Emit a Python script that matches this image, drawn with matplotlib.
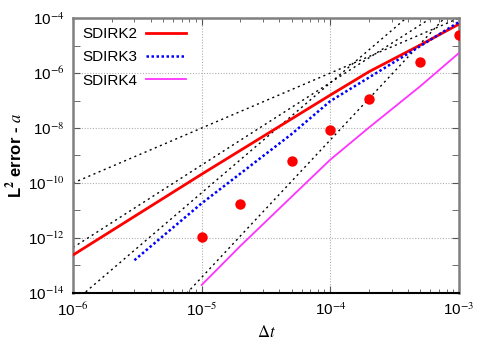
import numpy as np
import matplotlib
matplotlib.use("Agg")
import matplotlib.pyplot as plt
from matplotlib.ticker import FixedLocator, LogLocator, NullFormatter

plt.rcParams['font.family'] = ['Liberation Sans', 'DejaVu Sans']
plt.rcParams['mathtext.fontset'] = 'stix'

# SDIRK2 curve (log10 of error)
dt_sdirk2 = [1e-6, 1e-5, 1e-4, 2e-4, 5e-4, 1e-3]
err_sdirk2 = [-12.62, -9.68, -6.80, -5.95, -4.98, -4.22]

# SDIRK3 curve
dt_sdirk3 = [3e-6, 1e-5, 5e-5, 1e-4, 2e-4, 5e-4, 1e-3]
err_sdirk3 = [-12.81, -10.74, -8.22, -7.02, -6.16, -5.02, -4.14]

# SDIRK4 curve
dt_sdirk4 = [1e-5, 2e-5, 5e-5, 1e-4, 2e-4, 5e-4, 1e-3]
err_sdirk4 = [-13.71, -12.29, -10.50, -9.15, -7.98, -6.48, -5.27]

# red dots
dt_pts = [1e-5, 2e-5, 5e-5, 1e-4, 2e-4, 5e-4, 1e-3]
err_pts = [-11.95, -10.75, -9.21, -8.06, -6.96, -5.60, -4.62]

# reference slopes: order and constant C in C*dt^order
ref_orders = [2, 3, 4, 5]
ref_consts = [1e2, 4.5e5, 4.4e9, 3.7e11]

fig = plt.figure(figsize=(4.87, 3.41), dpi=100)
ax = fig.add_axes([0.150, 0.141, 0.7925, 0.806])

dt_ref = np.array([1e-6, 1e-3])
for p, c in zip(ref_orders, ref_consts):
    ax.plot(dt_ref, c * dt_ref**p, color='black', lw=1.0, ls=(0, (1.5, 2.5)), zorder=2)

ax.plot(dt_sdirk2, 10**np.array(err_sdirk2), color='#ff0000', lw=2.0, label='SDIRK2', zorder=3)
ax.plot(dt_sdirk3, 10**np.array(err_sdirk3), color='#0000ff', lw=1.8, ls=(0, (1, 1)), label='SDIRK3', zorder=3)
ax.plot(dt_sdirk4, 10**np.array(err_sdirk4), color='#ff33ff', lw=1.3, label='SDIRK4', zorder=3)
ax.plot(dt_pts, 10**np.array(err_pts), 'o', color='#ff0000', ms=7.5, mec='none', zorder=4)

ax.set_xscale('log')
ax.set_yscale('log')
ax.set_xlim(1e-6, 1e-3)
ax.set_ylim(1e-14, 1e-4)

ax.set_xticks([1e-6, 1e-5, 1e-4, 1e-3])
ax.set_xticklabels([r'10$^{-6}$', r'10$^{-5}$', r'10$^{-4}$', r'10$^{-3}$'])
ax.xaxis.set_minor_locator(LogLocator(base=10, subs=np.arange(2, 10)))
ax.xaxis.set_minor_formatter(NullFormatter())

ax.set_yticks([1e-14, 1e-12, 1e-10, 1e-8, 1e-6, 1e-4])
ax.set_yticklabels([r'10$^{-14}$', r'10$^{-12}$', r'10$^{-10}$', r'10$^{-8}$', r'10$^{-6}$', r'10$^{-4}$'])
ax.yaxis.set_minor_locator(FixedLocator([1e-13, 1e-11, 1e-9, 1e-7, 1e-5]))
ax.yaxis.set_minor_formatter(NullFormatter())

ax.tick_params(which='both', direction='in', top=True, right=True, labelsize=11, pad=6, color='#555555')
ax.tick_params(which='major', length=5)
ax.tick_params(axis='y', which='minor', length=5)
ax.tick_params(axis='x', which='minor', length=3)
ax.grid(True, which='major', color='#b0b0b0', ls=(0, (1, 1.5)), lw=0.8)

for s in ['left', 'top', 'right']:
    ax.spines[s].set_color('#808080')
    ax.spines[s].set_linewidth(1.8)
ax.spines['bottom'].set_color('black')
ax.spines['bottom'].set_linewidth(1.5)

ax.set_xlabel(r'$\Delta t$', fontsize=12, labelpad=4)
ax.set_ylabel(r'L$^{\mathbf{2}}$ error - $a$', fontsize=12, fontweight='bold', labelpad=2)

leg = ax.legend(loc='upper left', frameon=False, markerfirst=False, fontsize=11,
                handlelength=2.6, handletextpad=0.6, borderaxespad=0.2, labelspacing=0.6)

fig.savefig('out.png', dpi=100)
